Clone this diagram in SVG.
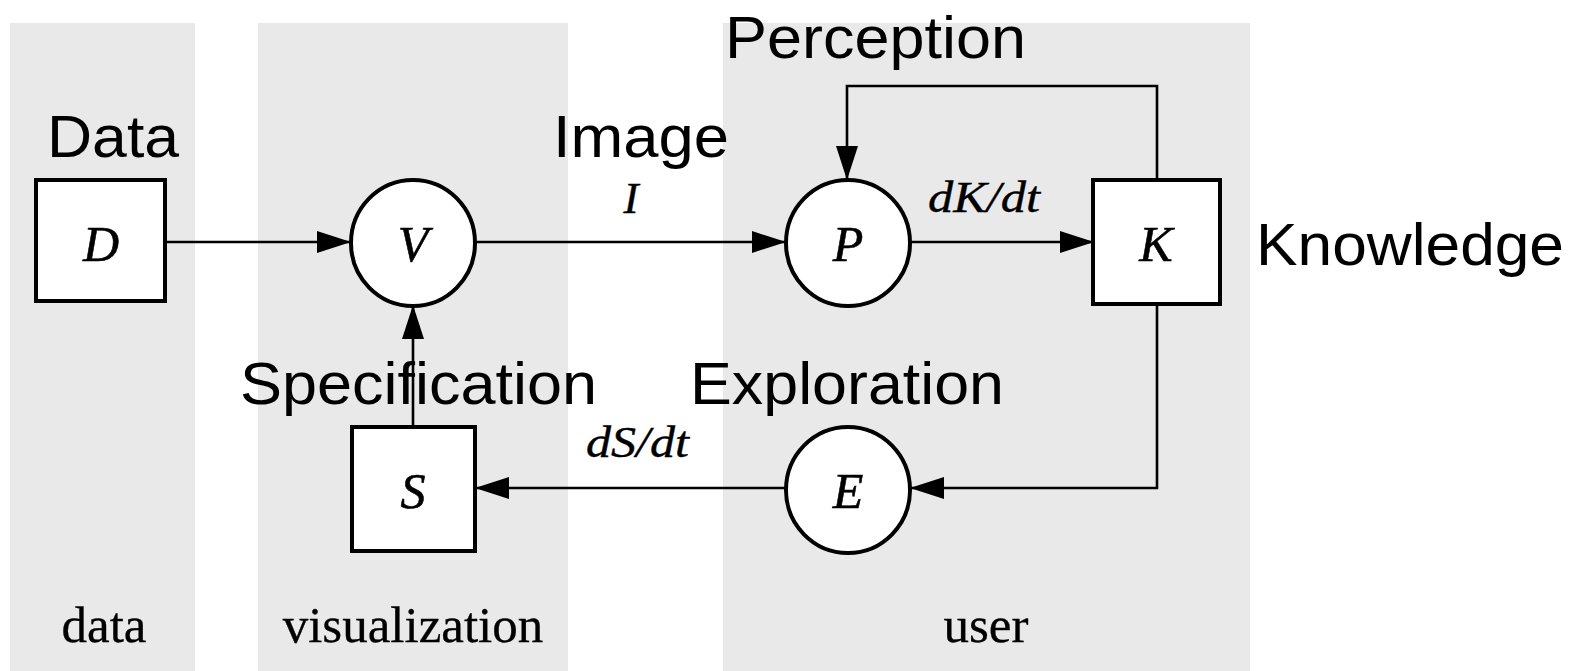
<svg xmlns="http://www.w3.org/2000/svg" width="1585" height="671" viewBox="0 0 1585 671">
<style>
.band{fill:#e9e9e9}
.node{fill:#fff;stroke:#000;stroke-width:4}
.sym{font-family:"Liberation Serif",serif;font-style:italic;font-size:50px;fill:#000;stroke:#000;stroke-width:0.6;text-anchor:middle}
.elab{font-family:"Liberation Serif",serif;font-style:italic;font-size:45px;fill:#000;stroke:#000;stroke-width:0.4}
.lane{font-family:"Liberation Serif",serif;font-size:51px;fill:#000;stroke:#000;stroke-width:0.3;text-anchor:middle}
.ann{font-family:"Liberation Sans",Arial,sans-serif;font-size:60px;fill:#000}
.conn{fill:none;stroke:#000;stroke-width:2.6}
</style>
<defs>
<marker id="arr" viewBox="0 0 34 22" refX="33" refY="11" markerWidth="34" markerHeight="22" markerUnits="userSpaceOnUse" orient="auto">
<path d="M0,0 L34,11 L0,22 z" fill="#000"/>
</marker>
</defs>
<g id="lanes">
<rect class="band" x="10" y="23" width="185" height="648"/>
<rect class="band" x="258" y="23" width="310" height="648"/>
<rect class="band" x="723" y="23" width="527" height="648"/>
<text class="lane" x="104" y="642">data</text>
<text class="lane" x="413" y="642">visualization</text>
<text class="lane" x="986" y="642">user</text>
</g>
<g id="connectors">
<path class="conn" d="M165,242 H350" marker-end="url(#arr)"/>
<path class="conn" d="M476,242 H785" marker-end="url(#arr)"/>
<path class="conn" d="M911,242 H1093" marker-end="url(#arr)"/>
<path class="conn" d="M1157,180 V86 H847 V179" marker-end="url(#arr)"/>
<path class="conn" d="M1157,304 V488 H911" marker-end="url(#arr)"/>
<path class="conn" d="M785,488 H476" marker-end="url(#arr)"/>
<path class="conn" d="M413,427 V306" marker-end="url(#arr)"/>
<text class="elab" x="631" y="213" text-anchor="middle">I</text>
<text class="elab" x="928" y="212" textLength="112" lengthAdjust="spacingAndGlyphs">dK/dt</text>
<text class="elab" x="586" y="457" textLength="103" lengthAdjust="spacingAndGlyphs">dS/dt</text>
</g>
<g id="node-D">
<rect class="node" x="36" y="180" width="129" height="121"/>
<text class="sym" x="101" y="261">D</text>
<text class="ann" x="47" y="157" textLength="132" lengthAdjust="spacingAndGlyphs">Data</text>
</g>
<g id="node-V">
<ellipse class="node" cx="413" cy="243" rx="62" ry="63"/>
<text class="sym" x="413" y="261">V</text>
</g>
<g id="node-P">
<ellipse class="node" cx="848" cy="243" rx="62" ry="63"/>
<text class="sym" x="848" y="261">P</text>
<text class="ann" x="553" y="157" textLength="176" lengthAdjust="spacingAndGlyphs">Image</text>
<text class="ann" x="725" y="58" textLength="301" lengthAdjust="spacingAndGlyphs">Perception</text>
</g>
<g id="node-K">
<rect class="node" x="1093" y="180" width="127" height="124"/>
<text class="sym" x="1156" y="261">K</text>
<text class="ann" x="1256" y="265" textLength="308" lengthAdjust="spacingAndGlyphs">Knowledge</text>
</g>
<g id="node-S">
<rect class="node" x="352" y="427" width="123" height="124"/>
<text class="sym" x="413" y="508">S</text>
<text class="ann" x="240" y="404" textLength="357" lengthAdjust="spacingAndGlyphs">Specification</text>
</g>
<g id="node-E">
<ellipse class="node" cx="848" cy="490" rx="62" ry="63"/>
<text class="sym" x="848" y="508">E</text>
<text class="ann" x="690" y="404" textLength="314" lengthAdjust="spacingAndGlyphs">Exploration</text>
</g>
</svg>
